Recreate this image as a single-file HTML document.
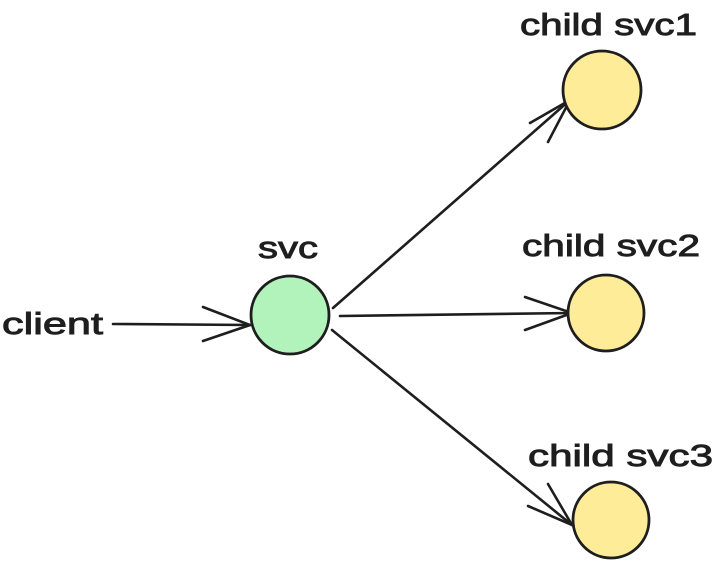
<!DOCTYPE html>
<html><head><meta charset="utf-8"><style>
html,body{margin:0;padding:0;background:#fff;width:718px;height:568px;overflow:hidden}
</style></head><body>
<svg width="718" height="568" viewBox="0 0 718 568" xmlns="http://www.w3.org/2000/svg">
<g font-family="Liberation Sans, sans-serif" font-size="31" fill="#1e1e1e" stroke="#1e1e1e" stroke-width="0.9">
<text x="520" y="35" textLength="177" lengthAdjust="spacingAndGlyphs">child svc1</text>
<text x="522" y="256" textLength="178" lengthAdjust="spacingAndGlyphs">child svc2</text>
<text x="528" y="466" textLength="185" lengthAdjust="spacingAndGlyphs">child svc3</text>
<text x="258" y="258" textLength="60" lengthAdjust="spacingAndGlyphs">svc</text>
<text x="2" y="334" textLength="101" lengthAdjust="spacingAndGlyphs">client</text>
</g>
<g stroke="#1e1e1e" stroke-width="2.6" fill="none" stroke-linecap="round">
<line x1="113" y1="324" x2="250" y2="325"/>
<polyline points="203,307 250,325 203,341"/>
<line x1="333" y1="308" x2="570" y2="100"/>
<polyline points="530,123 570,100 548,142"/>
<line x1="340" y1="316" x2="572" y2="313"/>
<polyline points="525,297 572,313 525,330"/>
<line x1="332" y1="330" x2="572" y2="525"/>
<polyline points="548,484 572,525 528,506"/>
</g>
<g stroke="#1e1e1e" stroke-width="2.8">
<circle cx="290" cy="315" r="39" fill="#b2f2bb"/>
<circle cx="602" cy="90" r="39" fill="#ffec99"/>
<circle cx="606" cy="313" r="38" fill="#ffec99"/>
<circle cx="611" cy="520" r="38" fill="#ffec99"/>
</g>
</svg>
</body></html>
